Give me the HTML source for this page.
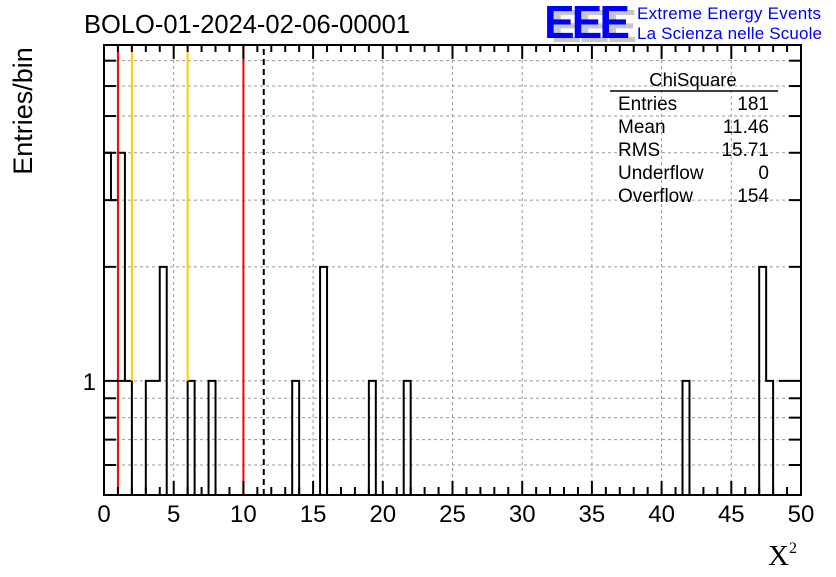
<!DOCTYPE html>
<html><head><meta charset="utf-8"><style>
body{margin:0;background:#fff;}
svg text{font-family:"Liberation Sans",sans-serif;}
</style></head><body>
<svg id="chart" width="836" height="572" viewBox="0 0 836 572" xmlns="http://www.w3.org/2000/svg">
<rect width="836" height="572" fill="#fff"/>
<text x="84" y="33" font-size="25.5">BOLO-01-2024-02-06-00001</text>
<g>
<text x="551" y="42" font-size="46" font-weight="bold" fill="#c8c8c8" letter-spacing="-3">EEE</text>
<text x="544" y="38" font-size="46" font-weight="bold" fill="#0000ff" letter-spacing="-3">EEE</text>
<text x="637" y="19" font-size="17" fill="#0000ff" textLength="184">Extreme Energy Events</text>
<text x="637" y="39" font-size="17" fill="#0000ff" textLength="185">La Scienza nelle Scuole</text>
</g>
<g id="grid"></g>
<g id="marks"></g>
<g id="axes"></g>
<g>
<text x="693" y="86" font-size="18.5" text-anchor="middle">ChiSquare</text>
<line x1="610" y1="91" x2="778" y2="91" stroke="#000" stroke-width="1.5"/>
<g font-size="19">
<text x="618" y="110">Entries</text><text x="769" y="110" text-anchor="end">181</text>
<text x="618" y="133">Mean</text><text x="769" y="133" text-anchor="end">11.46</text>
<text x="618" y="156">RMS</text><text x="769" y="156" text-anchor="end">15.71</text>
<text x="618" y="179">Underflow</text><text x="769" y="179" text-anchor="end">0</text>
<text x="618" y="202">Overflow</text><text x="769" y="202" text-anchor="end">154</text>
</g></g>
<text transform="translate(32,111) rotate(-90)" font-size="27" text-anchor="middle">Entries/bin</text>
<text x="768" y="565" font-size="29" font-family="Liberation Serif,serif" style="font-family:'Liberation Serif',serif">X<tspan font-size="16" dy="-12">2</tspan></text>
</svg>
<script>
const binLow=[0,0.5,1,1.5,3,3.5,4,6,7.5,13.5,15.5,19,21.5,41.5,47,47.5];
const binCount=[4,3,4,1,1,1,2,1,1,1,2,1,1,1,2,1];
const binWidth=0.5;
const xTicks=[0,5,10,15,20,25,30,35,40,45,50];
const yMinorTicks=[0.6,0.7,0.8,0.9,2,3,4,5,6,7];
const redLines=[1,10];
const yellowLines=[2,6];
const meanValue=11.46;
const X0=104,X1=801,Y0=495,Y1=45,XMIN=0,XMAX=50,YMIN=0.5,YMAX=7.7;
const NS='http://www.w3.org/2000/svg';
function sx(v){return X0+(v-XMIN)/(XMAX-XMIN)*(X1-X0);}
function sy(v){return Y0-(Math.log10(v)-Math.log10(YMIN))/(Math.log10(YMAX)-Math.log10(YMIN))*(Y0-Y1);}
function mk(p,tag,a){const e=document.createElementNS(NS,tag);for(const k in a)e.setAttribute(k,a[k]);p.appendChild(e);return e;}
const grid=document.getElementById('grid'),marks=document.getElementById('marks'),axes=document.getElementById('axes');
xTicks.forEach(t=>{if(t>XMIN&&t<XMAX){const g=mk(grid,'line',{x1:sx(t),x2:sx(t),y1:Y0,y2:Y1,stroke:'#999','stroke-dasharray':'3,3'});

}});
[1].concat(yMinorTicks).forEach(t=>{const g=mk(grid,'line',{x1:X0,x2:X1,y1:sy(t),y2:sy(t),stroke:'#999','stroke-dasharray':'3,3'});

});
let counts={};binLow.forEach((b,i)=>counts[b.toFixed(2)]=binCount[i]);
let d='';let nb=Math.round((XMAX-XMIN)/binWidth);
for(let i=0;i<nb;i++){const lo=XMIN+i*binWidth;const c=counts[lo.toFixed(2)]||YMIN;
if(i===0)d+='M'+sx(lo)+','+sy(YMIN);
d+=' L'+sx(lo)+','+sy(c)+' L'+sx(lo+binWidth)+','+sy(c);}
d+=' L'+sx(XMAX)+','+sy(YMIN);
const h=mk(marks,'path',{d:d,fill:'none',stroke:'#000','stroke-width':2});


redLines.forEach(v=>{const l=mk(marks,'line',{x1:sx(v),x2:sx(v),y1:Y0,y2:Y1,stroke:'#ff0000','stroke-width':2});

});
yellowLines.forEach(v=>{const l=mk(marks,'line',{x1:sx(v),x2:sx(v),y1:sy(1),y2:Y1,stroke:'#ffcc00','stroke-width':2});

});
const ml=mk(marks,'line',{x1:sx(meanValue),x2:sx(meanValue),y1:Y0,y2:Y1,stroke:'#000','stroke-width':2,'stroke-dasharray':'6,4'});


const fr=mk(axes,'rect',{x:X0,y:Y1,width:X1-X0,height:Y0-Y1,fill:'none',stroke:'#000','stroke-width':2});


for(let v=XMIN;v<=XMAX;v+=1){const maj=v%5===0;
mk(axes,'line',{x1:sx(v),x2:sx(v),y1:Y0,y2:Y0-(maj?14:8),stroke:'#000','stroke-width':2});
mk(axes,'line',{x1:sx(v),x2:sx(v),y1:Y1,y2:Y1+(maj?14:7),stroke:'#000','stroke-width':2});}
xTicks.forEach(t=>{const tx=mk(axes,'text',{x:sx(t),y:522,'font-size':24,'text-anchor':'middle'});tx.textContent=t;

});
[1].concat(yMinorTicks).forEach(t=>{const L=t===1?22:12;
mk(axes,'line',{x1:X0,x2:X0+L,y1:sy(t),y2:sy(t),stroke:'#000','stroke-width':2});
mk(axes,'line',{x1:X1,x2:X1-L,y1:sy(t),y2:sy(t),stroke:'#000','stroke-width':2});});
const yl=mk(axes,'text',{x:96,y:sy(1)+9,'font-size':24,'text-anchor':'end'});yl.textContent='1';


</script>
</body></html>
